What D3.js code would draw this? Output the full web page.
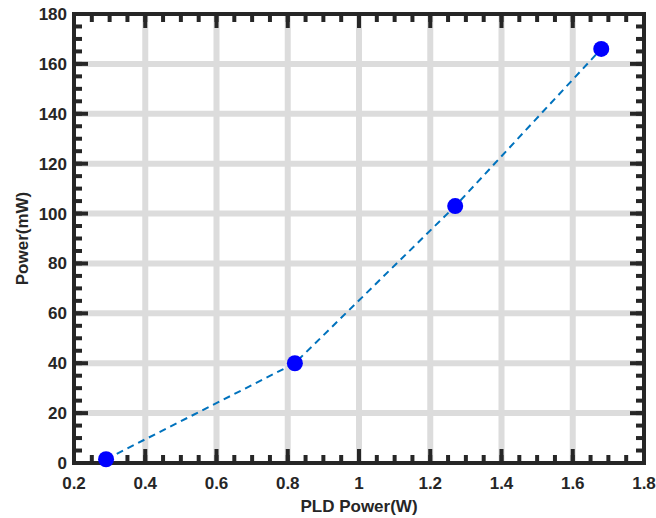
<!DOCTYPE html>
<html>
<head>
<meta charset="utf-8">
<script src="https://cdn.jsdelivr.net/npm/d3@7"></script>
<style>
  body { margin: 0; background: #fff; }
  text { font-family: "Liberation Sans", Arial, sans-serif; font-weight: bold; fill: #262626; }
</style>
</head>
<body>
<script>
var pumpPower = [0.29, 0.82, 1.27, 1.68];
var outPower = [1.5, 40, 103, 166];
var xTicks = [0.2, 0.4, 0.6, 0.8, 1, 1.2, 1.4, 1.6, 1.8];
var yTicks = [0, 20, 40, 60, 80, 100, 120, 140, 160, 180];

var width = 656,
    height = 518;

var pLeft = 74, pRight = 644, pTop = 14, pBottom = 463;

var svg = d3.select('body')
  .append('svg')
  .attr('width', width)
  .attr('height', height);

var x = d3.scaleLinear().domain([0.2, 1.8]).range([pLeft, pRight]);
var y = d3.scaleLinear().domain([0, 180]).range([pBottom, pTop]);

var xMinor = d3.range(0.2, 1.8001, 0.05).map(function(d) { return +d.toFixed(2); });
var yMinor = d3.range(0, 180.1, 5);

// grid
var grid = svg.append('g');
grid.selectAll(null)
  .data(xTicks.slice(1, -1))
  .enter().append('line')
  .attr('x1', function(d) { return x(d); })
  .attr('x2', function(d) { return x(d); })
  .attr('y1', pTop).attr('y2', pBottom)
  .attr('stroke', '#dcdcdc').attr('stroke-width', 6);
grid.selectAll(null)
  .data(yTicks.slice(1, -1))
  .enter().append('line')
  .attr('y1', function(d) { return y(d); })
  .attr('y2', function(d) { return y(d); })
  .attr('x1', pLeft).attr('x2', pRight)
  .attr('stroke', '#dcdcdc').attr('stroke-width', 6);

// axes with inward ticks
var axisColor = '#262626';
function tickLines(g, data, horiz, pos, dir, len) {
  g.selectAll(null)
    .data(data)
    .enter().append('line')
    .attr('x1', function(d) { return horiz ? x(d) : pos; })
    .attr('x2', function(d) { return horiz ? x(d) : pos + dir * len; })
    .attr('y1', function(d) { return horiz ? pos : y(d); })
    .attr('y2', function(d) { return horiz ? pos + dir * len : y(d); })
    .attr('stroke', axisColor)
    .attr('stroke-width', 4);
}
var ax = svg.append('g');
tickLines(ax, xMinor, true, pBottom, -1, 8);
tickLines(ax, xTicks, true, pBottom, -1, 14);
tickLines(ax, xMinor, true, pTop, 1, 8);
tickLines(ax, xTicks, true, pTop, 1, 14);
tickLines(ax, yMinor, false, pLeft, 1, 8);
tickLines(ax, yTicks, false, pLeft, 1, 14);
tickLines(ax, yMinor, false, pRight, -1, 8);
tickLines(ax, yTicks, false, pRight, -1, 14);

ax.append('rect')
  .attr('x', pLeft).attr('y', pTop)
  .attr('width', pRight - pLeft).attr('height', pBottom - pTop)
  .attr('fill', 'none')
  .attr('stroke', axisColor)
  .attr('stroke-width', 4);

// tick labels
svg.append('g').selectAll('text')
  .data(xTicks)
  .enter().append('text')
  .attr('x', function(d) { return x(d); })
  .attr('y', pBottom + 26)
  .attr('text-anchor', 'middle')
  .attr('font-size', 17)
  .text(function(d) { return d; });

svg.append('g').selectAll('text')
  .data(yTicks)
  .enter().append('text')
  .attr('x', pLeft - 7)
  .attr('y', function(d) { return y(d) + 6; })
  .attr('text-anchor', 'end')
  .attr('font-size', 17)
  .text(function(d) { return d; });

svg.append('text')
  .attr('x', (pLeft + pRight) / 2)
  .attr('y', 512)
  .attr('text-anchor', 'middle')
  .attr('font-size', 17)
  .text('PLD Power(W)');

svg.append('text')
  .attr('transform', 'translate(28,' + (pTop + pBottom) / 2 + ') rotate(-90)')
  .attr('text-anchor', 'middle')
  .attr('font-size', 17)
  .text('Power(mW)');

// data
var pts = pumpPower.map(function(d, i) { return [d, outPower[i]]; });

var line = d3.line()
  .x(function(d) { return x(d[0]); })
  .y(function(d) { return y(d[1]); });

svg.append('path')
  .datum(pts)
  .attr('d', line)
  .attr('fill', 'none')
  .attr('stroke', '#0072bd')
  .attr('stroke-width', 2)
  .attr('stroke-dasharray', '7,5');

svg.selectAll('.pt')
  .data(pts)
  .enter().append('circle')
  .attr('cx', function(d) { return x(d[0]); })
  .attr('cy', function(d) { return y(d[1]); })
  .attr('r', 8)
  .attr('fill', '#0000ff');
</script>
</body>
</html>
